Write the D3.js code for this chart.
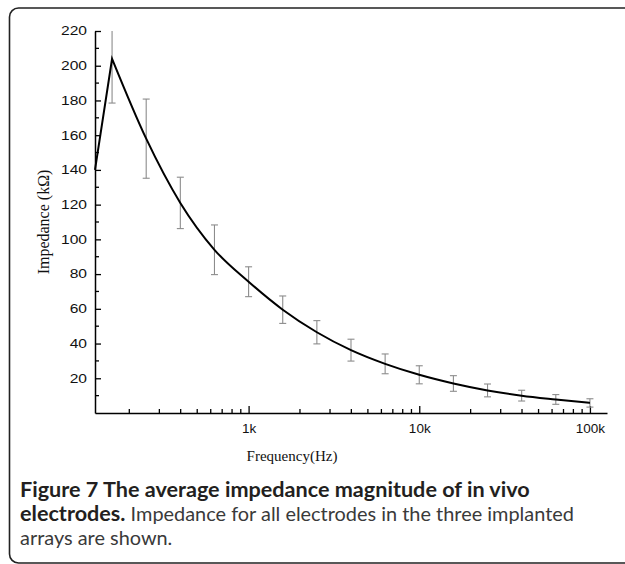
<!DOCTYPE html>
<html>
<head>
<meta charset="utf-8">
<script src="https://cdn.jsdelivr.net/npm/d3@7"></script>
<style>
  body { margin: 0; background: #fff; }
  svg { display: block; }
</style>
</head>
<body>
<svg id="chart" width="625" height="564"></svg>
<script>
// frequency (Hz) of each averaged point
var freqs = [125.9, 158.5, 251.2, 398.1, 631, 1000, 1585, 2512, 3981, 6310, 10000, 15850, 25120, 39810, 63100, 100000]
// mean impedance (kOhm)
var means = [140, 204, 158, 121, 94, 75.6, 59.5, 46.5, 36.2, 28.3, 22, 17, 13, 10, 7.8, 5.8]
// half-length of the error bar (kOhm); first point has none
var errs = [0, 25.5, 22.8, 14.8, 14.3, 8.6, 7.9, 6.7, 6.3, 5.7, 5.2, 4.5, 3.7, 3.1, 2.8, 2.4]

var xDomain = [125.9, 125900]
var xTicks = [1000, 10000, 100000]
var xTickLabels = ['1k', '10k', '100k']
var xMinor = [200, 300, 400, 500, 600, 700, 800, 900,
  2000, 3000, 4000, 5000, 6000, 7000, 8000, 9000,
  20000, 30000, 40000, 50000, 60000, 70000, 80000, 90000]
var yDomain = [0, 220]
var yTicks = [20, 40, 60, 80, 100, 120, 140, 160, 180, 200, 220]
var yMinor = [10, 30, 50, 70, 90, 110, 130, 150, 170, 190, 210]

var data = freqs.map(function (f, i) {
  return { f: f, v: means[i], e: errs[i] }
})

var svg = d3.select('#chart')

// rounded frame around the figure (runs off the right edge)
svg.append('rect')
  .attr('x', 9.5).attr('y', 8)
  .attr('width', 700).attr('height', 555)
  .attr('rx', 9)
  .attr('fill', 'none')
  .attr('stroke', '#222')
  .attr('stroke-width', 1.6)

var x = d3.scaleLog().domain(xDomain).range([95, 607])
var y = d3.scaleLinear().domain(yDomain).range([413, 31])

var axisFont = 'Liberation Sans, Arial, sans-serif'

// y axis, ticks pointing inward
var yAxis = svg.append('g')
  .attr('transform', 'translate(95,0)')
  .call(d3.axisLeft(y).tickValues(yTicks).tickSize(-6).tickSizeOuter(0).tickPadding(8))
yAxis.select('.domain').attr('stroke', '#000').attr('stroke-width', 1.5)
yAxis.selectAll('.tick line').attr('stroke', '#000').attr('stroke-width', 1.3)
// the tick labels in the original are stretched sideways
yAxis.selectAll('.tick text')
  .attr('fill', '#111')
  .style('font-family', axisFont)
  .style('font-size', '12px')
  .attr('x', -8 / 1.3)
  .attr('transform', 'scale(1.3,1)')
svg.append('g').selectAll('line.yminor')
  .data(yMinor)
  .enter().append('line')
  .attr('class', 'yminor')
  .attr('x1', 95).attr('x2', 99)
  .attr('y1', function (d) { return y(d) })
  .attr('y2', function (d) { return y(d) })
  .attr('stroke', '#000').attr('stroke-width', 1.3)

// x axis
var xAxis = svg.append('g')
  .attr('transform', 'translate(0,413)')
  .call(d3.axisBottom(x).tickValues(xTicks).tickSize(-7).tickSizeOuter(0).tickPadding(10)
    .tickFormat(function (d, i) { return xTickLabels[i] }))
xAxis.select('.domain').attr('stroke', '#000').attr('stroke-width', 1.5)
xAxis.selectAll('.tick line').attr('stroke', '#000').attr('stroke-width', 1.3)
xAxis.selectAll('.tick text')
  .attr('fill', '#111')
  .style('font-family', axisFont)
  .style('font-size', '13.5px')
svg.append('g').selectAll('line.xminor')
  .data(xMinor)
  .enter().append('line')
  .attr('class', 'xminor')
  .attr('x1', function (d) { return x(d) })
  .attr('x2', function (d) { return x(d) })
  .attr('y1', 413).attr('y2', 409)
  .attr('stroke', '#000').attr('stroke-width', 1.3)

// error bars (clipped at the top of the axis)
var bars = svg.append('g').attr('stroke', '#8c8c8c').attr('stroke-width', 1.1)
data.filter(function (d) { return d.e > 0 }).forEach(function (d) {
  var cx = x(d.f)
  var top = Math.min(d.v + d.e, yDomain[1])
  var bot = d.v - d.e
  bars.append('line')
    .attr('x1', cx).attr('x2', cx)
    .attr('y1', y(top)).attr('y2', y(bot))
  bars.append('line')
    .attr('x1', cx - 3.5).attr('x2', cx + 3.5)
    .attr('y1', y(bot)).attr('y2', y(bot))
  if (d.v + d.e <= yDomain[1]) {
    bars.append('line')
      .attr('x1', cx - 3.5).attr('x2', cx + 3.5)
      .attr('y1', y(top)).attr('y2', y(top))
  }
})

// mean curve: straight rise to the peak, smooth fall after it
var rise = d3.line()
  .x(function (d) { return x(d.f) })
  .y(function (d) { return y(d.v) })
var fall = d3.line()
  .x(function (d) { return x(d.f) })
  .y(function (d) { return y(d.v) })
  .curve(d3.curveMonotoneX)
svg.append('path')
  .attr('d', rise(data.slice(0, 2)) + fall(data.slice(1)).replace(/^M/, 'L'))
  .attr('fill', 'none')
  .attr('stroke', '#000')
  .attr('stroke-width', 2)
  .attr('stroke-linejoin', 'miter')

// axis titles
var serif = 'Liberation Serif, Times New Roman, serif'
svg.append('text')
  .attr('transform', 'translate(49,222) rotate(-90)')
  .attr('text-anchor', 'middle')
  .style('font-family', serif)
  .style('font-size', '16px')
  .attr('fill', '#111')
  .text('Impedance (k\u03A9)')
svg.append('text')
  .attr('x', 292).attr('y', 461)
  .attr('text-anchor', 'middle')
  .style('font-family', serif)
  .style('font-size', '15px')
  .attr('fill', '#111')
  .text('Frequency(Hz)')

// caption, each line fitted to the width it has in the original
var capFont = 'Lato, Open Sans, sans-serif'
var line1 = svg.append('text')
  .attr('x', 20).attr('y', 497)
  .style('font-family', capFont)
  .style('font-weight', 'bold')
  .style('font-size', '16px')
  .attr('fill', '#231f20')
  .text('Figure 7 The average impedance magnitude of in vivo')
var boldSize = 16 * 510 / line1.node().getComputedTextLength()
line1.style('font-size', boldSize + 'px')

var line2 = svg.append('text')
  .attr('x', 20).attr('y', 521)
  .style('font-family', capFont)
  .attr('fill', '#3a3a3a')
var lead = line2.append('tspan')
  .style('font-weight', 'bold')
  .style('font-size', boldSize + 'px')
  .attr('fill', '#231f20')
  .text('electrodes.')
var rest = line2.append('tspan')
  .style('font-size', '16px')
  .text(' Impedance for all electrodes in the three implanted')
var leadW = lead.node().getComputedTextLength()
var regSize = 16 * (554 - leadW) / rest.node().getComputedTextLength()
rest.style('font-size', regSize + 'px')

svg.append('text')
  .attr('x', 20).attr('y', 545)
  .style('font-family', capFont)
  .style('font-size', regSize + 'px')
  .attr('fill', '#3a3a3a')
  .text('arrays are shown.')
</script>
</body>
</html>
